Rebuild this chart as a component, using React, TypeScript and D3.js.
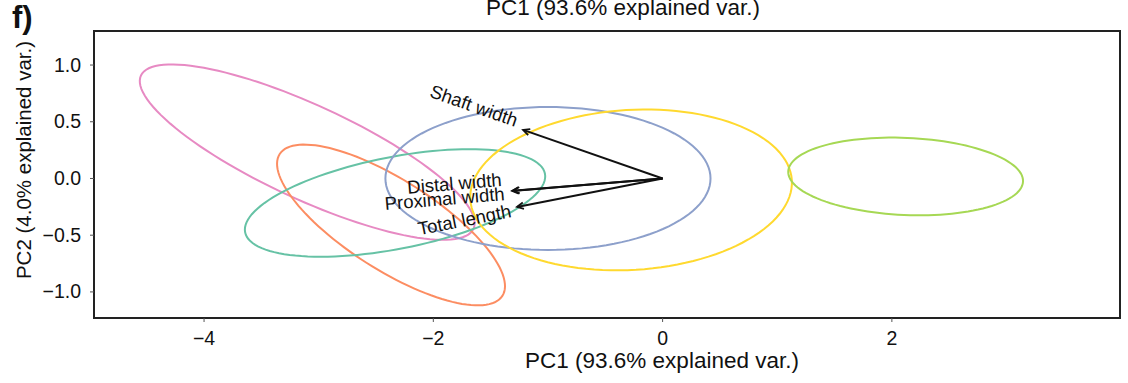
import React from "react";
import * as d3 from "d3";

// ---- data ----
const xTicks = [-4, -2, 0, 2];
const yTicks = [-1.0, -0.5, 0.0, 0.5, 1.0];

const groupColors = ["#E78AC3", "#FC8D62", "#66C2A5", "#8DA0CB", "#FFD92F", "#A6D854"];
const centerX = [-3.1, -2.369, -2.334, -1.0, -0.275, 2.12];
const centerY = [0.232, -0.41, -0.216, 0.0, -0.101, 0.018];
const semiMajor = [1.6, 1.155, 1.333, 1.418, 1.405, 1.025];
const semiMinor = [0.414, 0.396, 0.405, 0.63, 0.705, 0.34];
const angleDeg = [-25, -32.8, 11.2, 0, 3.5, -2.5];

const varNames = ["Shaft width", "Distal width", "Proximal width", "Total length"];
const arrowX = [-1.217, -1.305, -1.313, -1.27];
const arrowY = [0.428, -0.108, -0.11, -0.251];
const labelX = [-1.287, -1.4, -1.374, -1.313];
const labelY = [0.454, -0.066, -0.19, -0.339];

const xTitle = "PC1 (93.6% explained var.)";
const yTitle = "PC2 (4.0% explained var.)";
const panelTag = "f)";

// ---- layout ----
const W = 1128;
const H = 383;
const L = 94, R = 1120, T = 31, B = 318;
const FONT = "'Liberation Sans', Arial, Helvetica, sans-serif";

const x = d3.scaleLinear().domain([-4.96, 3.99]).range([L, R]);
const y = d3.scaleLinear().domain([-1.23, 1.3]).range([B, T]);

const minus = (v: number, s: string) => (v < 0 ? "\u2212" : "") + s;
const fmtX = (v: number) => minus(v, String(Math.abs(v)));
const fmtY = (v: number) => minus(v, Math.abs(v).toFixed(1));

function Txt(props: {
  x: number; y: number; anchor?: string; size: number; rotate?: number;
  weight?: string; children: React.ReactNode;
}) {
  const { rotate = 0 } = props;
  return (
    <text
      transform={`translate(${props.x},${props.y}) rotate(${rotate})`}
      textAnchor={props.anchor || "start"}
      fontSize={props.size}
      fontFamily={FONT}
      fontWeight={props.weight || "normal"}
      fill="#111"
    >
      {props.children}
    </text>
  );
}

function ellipsePath(i: number) {
  const th = (angleDeg[i] * Math.PI) / 180;
  const pts: [number, number][] = d3.range(0, 120).map((k) => {
    const t = (k / 120) * 2 * Math.PI;
    const ex = semiMajor[i] * Math.cos(t);
    const ey = semiMinor[i] * Math.sin(t);
    return [
      x(centerX[i] + ex * Math.cos(th) - ey * Math.sin(th)),
      y(centerY[i] + ex * Math.sin(th) + ey * Math.cos(th)),
    ];
  });
  return d3.line().curve(d3.curveLinearClosed)(pts) || "";
}

export default function App() {
  return (
    <svg
      width={W}
      height={H}
      style={{ position: "absolute", left: 0, top: 0, display: "block", background: "#fff" }}
    >
      <defs>
        <marker
          id="ah"
          viewBox="-10 -6 12 12"
          markerWidth={12}
          markerHeight={12}
          refX={0}
          refY={0}
          orient="auto"
          markerUnits="userSpaceOnUse"
        >
          <path d="M-6.5,-3.2 L0,0 L-6.5,3.2" fill="none" stroke="#111" strokeWidth={1.8} />
        </marker>
      </defs>

      {/* ellipses */}
      {groupColors.map((c, i) => (
        <path key={"e" + i} d={ellipsePath(i)} fill="none" stroke={c} strokeWidth={2} />
      ))}

      {/* arrows */}
      {varNames.map((n, i) => (
        <line
          key={"a" + i}
          x1={x(0)}
          y1={y(0)}
          x2={x(arrowX[i])}
          y2={y(arrowY[i])}
          stroke="#111"
          strokeWidth={2}
          markerEnd="url(#ah)"
        />
      ))}

      {/* variable labels */}
      {varNames.map((n, i) => (
        <Txt
          key={"l" + i}
          x={x(labelX[i])}
          y={y(labelY[i])}
          anchor="end"
          size={18.5}
          rotate={-(Math.atan(arrowY[i] / arrowX[i]) * 180) / Math.PI}
        >
          {n}
        </Txt>
      ))}

      {/* frame */}
      <rect x={L} y={T} width={R - L} height={B - T} fill="none" stroke="#222" strokeWidth={2} />

      {/* x ticks */}
      {xTicks.map((t) => (
        <g key={"xt" + t}>
          <line x1={x(t)} x2={x(t)} y1={B} y2={B + 4} stroke="#555" strokeWidth={1} />
          <Txt x={x(t)} y={345} anchor="middle" size={19.5}>
            {fmtX(t)}
          </Txt>
        </g>
      ))}

      {/* y ticks */}
      {yTicks.map((t) => (
        <g key={"yt" + t}>
          <line x1={L - 4} x2={L} y1={y(t)} y2={y(t)} stroke="#555" strokeWidth={1} />
          <Txt x={81} y={y(t) + 6.5} anchor="end" size={19.5}>
            {fmtY(t)}
          </Txt>
        </g>
      ))}

      {/* titles */}
      <Txt x={662} y={368} anchor="middle" size={22.5}>
        {xTitle}
      </Txt>
      <Txt x={623} y={15} anchor="middle" size={22.5}>
        {xTitle}
      </Txt>
      <Txt x={31} y={160} anchor="middle" size={20.5} rotate={-90}>
        {yTitle}
      </Txt>
      <Txt x={12} y={28} size={31} weight="bold">
        {panelTag}
      </Txt>
    </svg>
  );
}
